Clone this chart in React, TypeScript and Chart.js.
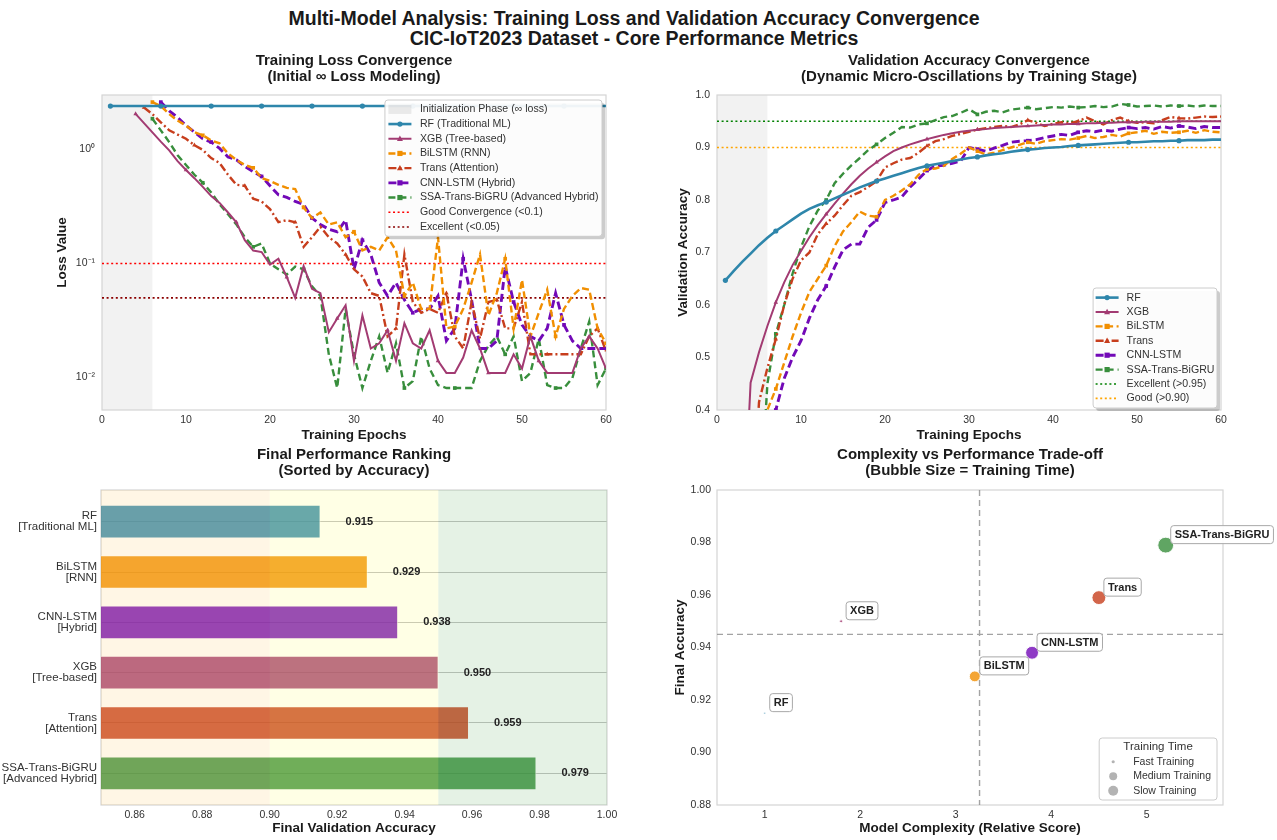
import React, { useEffect, useRef } from "react";
import { Chart, registerables } from "chart.js";
Chart.register(...registerables);

const FONT = "'Liberation Sans', Arial, Helvetica, sans-serif";

// ---------------- DATA ----------------
const EPOCHS = [1,2,3,4,5,6,7,8,9,10,11,12,13,14,15,16,17,18,19,20,21,22,23,24,25,26,27,28,29,30,31,32,33,34,35,36,37,38,39,40,41,42,43,44,45,46,47,48,49,50,51,52,53,54,55,56,57,58,59,60];

const MODELS = ["RF", "XGB", "BiLSTM", "Trans", "CNN-LSTM", "SSA-Trans-BiGRU"];
const MODEL_TYPES = ["Traditional ML", "Tree-based", "RNN", "Attention", "Hybrid", "Advanced Hybrid"];

const LOSS_RF = [2.4,2.4,2.4,2.4,2.4,2.4,2.4,2.4,2.4,2.4,2.4,2.4,2.4,2.4,2.4,2.4,2.4,2.4,2.4,2.4,2.4,2.4,2.4,2.4,2.4,2.4,2.4,2.4,2.4,2.4,2.4,2.4,2.4,2.4,2.4,2.4,2.4,2.4,2.4,2.4,2.4,2.4,2.4,2.4,2.4,2.4,2.4,2.4,2.4,2.4,2.4,2.4,2.4,2.4,2.4,2.4,2.4,2.4,2.4,2.4];
const LOSS_XGB = [null,null,null,2.05,1.70,1.41,1.17,0.98,0.79,0.66,
  0.56,0.47,0.39,0.34,0.28,0.23,0.16,0.13,0.126,0.098,
  0.11,0.076,0.050,0.095,0.060,0.055,0.025,0.033,0.043,0.014,
  0.035,0.018,0.020,0.026,0.014,0.030,0.020,0.018,0.026,0.014,
  0.011,0.011,0.015,0.026,0.018,0.011,0.011,0.011,0.016,0.012,
  0.023,0.014,0.011,0.011,0.011,0.011,0.018,0.023,0.018,0.012];
const LOSS_BILSTM = [null,null,null,null,null,2.6,2.4,2.04,1.79,1.62,
  1.42,1.33,1.20,1.13,0.92,0.81,0.73,0.69,0.56,0.53,
  0.49,0.46,0.45,0.31,0.25,0.28,0.22,0.23,0.17,0.19,
  0.13,0.14,0.13,0.17,0.13,0.052,0.068,0.040,0.040,0.17,
  0.027,0.028,0.040,0.068,0.12,0.035,0.055,0.11,0.027,0.072,
  0.023,0.037,0.059,0.023,0.040,0.052,0.061,0.059,0.027,0.020];
const LOSS_TRANS = [null,null,null,null,2.33,2.04,1.73,1.47,1.35,1.24,
  1.09,0.99,0.84,0.76,0.60,0.49,0.48,0.37,0.35,0.30,
  0.23,0.24,0.23,0.14,0.17,0.21,0.17,0.15,0.12,0.089,
  0.077,0.055,0.052,0.023,0.027,0.12,0.046,0.037,0.040,0.037,
  0.055,0.023,0.018,0.046,0.022,0.046,0.048,0.027,0.027,0.046,
  0.016,0.016,0.016,0.016,0.016,0.016,0.016,0.023,0.027,0.017];
const LOSS_CNN = [null,null,null,null,null,null,2.6,2.18,1.91,1.62,
  1.42,1.24,1.16,1.02,0.86,0.81,0.71,0.64,0.58,0.48,
  0.40,0.38,0.35,0.33,0.25,0.22,0.20,0.19,0.24,0.089,
  0.16,0.12,0.068,0.052,0.068,0.048,0.037,0.040,0.040,0.052,
  0.021,0.027,0.11,0.048,0.018,0.018,0.021,0.094,0.046,0.029,
  0.023,0.021,0.027,0.055,0.029,0.021,0.018,0.018,0.018,0.018];
const LOSS_SSA = [null,null,null,null,null,1.86,1.47,1.16,0.89,0.73,
  0.60,0.51,0.42,0.33,0.27,0.22,0.17,0.14,0.15,0.10,
  0.089,0.080,0.094,0.089,0.063,0.052,0.016,0.0081,0.040,0.016,
  0.0081,0.014,0.023,0.011,0.020,0.0081,0.0093,0.023,0.012,0.0086,
  0.0081,0.0081,0.0081,0.0081,0.014,0.019,0.023,0.016,0.023,0.0093,
  0.011,0.022,0.0086,0.0081,0.0081,0.0099,0.018,0.031,0.0086,0.012];

const ACC_RF = [0.647,0.665,0.682,0.698,0.714,0.728,0.741,0.752,0.763,0.774,
  0.783,0.790,0.796,0.803,0.810,0.817,0.824,0.830,0.836,0.841,
  0.846,0.851,0.856,0.861,0.865,0.868,0.871,0.874,0.877,0.880,
  0.882,0.885,0.887,0.889,0.892,0.894,0.896,0.897,0.899,0.900,
  0.901,0.903,0.904,0.905,0.906,0.907,0.908,0.909,0.910,0.910,
  0.911,0.912,0.912,0.913,0.913,0.914,0.914,0.914,0.915,0.915];
const ACC_XGB = [0.05,0.08,0.12,0.452,0.510,0.560,0.605,0.643,0.676,0.703,
  0.729,0.752,0.773,0.793,0.812,0.830,0.846,0.860,0.872,0.883,
  0.893,0.900,0.906,0.911,0.916,0.920,0.924,0.927,0.930,0.932,
  0.934,0.935,0.937,0.938,0.939,0.940,0.941,0.942,0.943,0.944,
  0.944,0.945,0.945,0.946,0.946,0.947,0.947,0.948,0.948,0.948,
  0.949,0.949,0.949,0.949,0.950,0.950,0.950,0.950,0.950,0.950];
const ACC_BILSTM = [0.04,0.06,0.08,0.11,0.15,0.40,0.44,0.49,0.54,0.585,
  0.625,0.650,0.675,0.712,0.740,0.758,0.778,0.770,0.768,0.800,
  0.808,0.818,0.830,0.848,0.859,0.860,0.865,0.878,0.888,0.900,
  0.893,0.887,0.890,0.895,0.900,0.905,0.910,0.907,0.912,0.914,
  0.916,0.915,0.918,0.922,0.918,0.920,0.924,0.921,0.927,0.929,
  0.932,0.926,0.930,0.928,0.929,0.932,0.928,0.933,0.930,0.929];
const ACC_TRANS = [0.05,0.08,0.11,0.15,0.415,0.48,0.535,0.60,0.65,0.685,
  0.70,0.735,0.755,0.77,0.79,0.808,0.815,0.825,0.836,0.862,
  0.870,0.877,0.880,0.890,0.903,0.912,0.916,0.922,0.926,0.930,
  0.934,0.937,0.939,0.941,0.939,0.944,0.952,0.947,0.941,0.945,
  0.948,0.946,0.950,0.957,0.950,0.944,0.952,0.957,0.950,0.947,
  0.948,0.946,0.952,0.958,0.956,0.955,0.957,0.959,0.958,0.959];
const ACC_CNN = [0.03,0.05,0.07,0.09,0.12,0.15,0.40,0.46,0.50,0.532,
  0.575,0.610,0.636,0.672,0.705,0.716,0.716,0.748,0.762,0.795,
  0.800,0.806,0.825,0.840,0.856,0.865,0.866,0.870,0.874,0.900,
  0.897,0.893,0.899,0.904,0.910,0.912,0.913,0.915,0.919,0.922,
  0.925,0.923,0.929,0.932,0.930,0.933,0.931,0.935,0.938,0.936,
  0.938,0.935,0.940,0.937,0.941,0.939,0.936,0.940,0.938,0.938];
const ACC_SSA = [0.05,0.07,0.09,0.12,0.18,0.45,0.545,0.60,0.66,0.71,
  0.75,0.78,0.80,0.832,0.85,0.866,0.880,0.895,0.906,0.918,
  0.928,0.939,0.938,0.944,0.946,0.952,0.958,0.960,0.966,0.973,
  0.963,0.968,0.970,0.967,0.972,0.974,0.976,0.973,0.975,0.977,
  0.976,0.978,0.976,0.977,0.979,0.977,0.978,0.983,0.981,0.978,
  0.979,0.980,0.978,0.980,0.979,0.980,0.978,0.980,0.979,0.979];

const FINAL_ACC = [0.915, 0.950, 0.929, 0.959, 0.938, 0.979];
const COMPLEXITY = [1.0, 1.8, 3.2, 4.5, 3.8, 5.2];
const TRAIN_TIME = [2, 4.5, 60, 98, 85, 128];

const INIT_PHASE = [0, 6];
const LOSS_GOOD = 0.1;
const LOSS_EXCELLENT = 0.05;
const ACC_EXCELLENT = 0.95;
const ACC_GOOD = 0.9;
const EPOCH_TICKS = [0, 10, 20, 30, 40, 50, 60];
const LOSS_TICKS = [1, 0.1, 0.01];
const LOSS_TICK_LABELS = ["10\u2070", "10\u207B\u00B9", "10\u207B\u00B2"];
const ACC_TICKS = [0.4, 0.5, 0.6, 0.7, 0.8, 0.9, 1.0];
const BAR_TICKS = [0.86, 0.88, 0.90, 0.92, 0.94, 0.96, 0.98, 1.00];
const BAR_ZONES = [0.85, 0.90, 0.95, 1.00];
const SC_X_TICKS = [1, 2, 3, 4, 5];
const SC_Y_TICKS = [0.88, 0.90, 0.92, 0.94, 0.96, 0.98, 1.00];
const TIME_LEGEND = ["Fast Training", "Medium Training", "Slow Training"];

// ---------------- STYLES ----------------
const STYLE = [
  { color: "#2E86AB", width: 2.6, dash: [] as number[], marker: "circle" },
  { color: "#A23B72", width: 2.0, dash: [] as number[], marker: "triangle" },
  { color: "#F18F01", width: 2.4, dash: [7, 3.5], marker: "rect" },
  { color: "#C73E1D", width: 2.4, dash: [8, 3, 2, 3], marker: "triangle" },
  { color: "#7209B7", width: 2.9, dash: [8, 4], marker: "rect" },
  { color: "#388E3C", width: 2.4, dash: [7, 4], marker: "rect" },
];
const ZONE_COLORS = ["rgba(255,165,0,0.1)", "rgba(255,255,0,0.1)", "rgba(0,128,0,0.1)"];

function hexA(hex: string, a: number) {
  const n = parseInt(hex.slice(1), 16);
  return `rgba(${(n >> 16) & 255},${(n >> 8) & 255},${n & 255},${a})`;
}

function rr(ctx: CanvasRenderingContext2D, x: number, y: number, w: number, h: number, r: number) {
  ctx.beginPath();
  ctx.moveTo(x + r, y);
  ctx.lineTo(x + w - r, y);
  ctx.arcTo(x + w, y, x + w, y + r, r);
  ctx.lineTo(x + w, y + h - r);
  ctx.arcTo(x + w, y + h, x + w - r, y + h, r);
  ctx.lineTo(x + r, y + h);
  ctx.arcTo(x, y + h, x, y + h - r, r);
  ctx.lineTo(x, y + r);
  ctx.arcTo(x, y, x + r, y, r);
  ctx.closePath();
}

function drawMarker(ctx: CanvasRenderingContext2D, kind: string, x: number, y: number, r: number, color: string) {
  ctx.save();
  ctx.setLineDash([]);
  ctx.fillStyle = color;
  ctx.beginPath();
  if (kind === "circle") ctx.arc(x, y, r, 0, Math.PI * 2);
  else if (kind === "rect") ctx.rect(x - r, y - r, 2 * r, 2 * r);
  else {
    ctx.moveTo(x, y - r * 1.25);
    ctx.lineTo(x + r * 1.15, y + r * 0.85);
    ctx.lineTo(x - r * 1.15, y + r * 0.85);
    ctx.closePath();
  }
  ctx.fill();
  ctx.restore();
}

type Entry = { label: string; kind: "line" | "patch" | "dot"; color: string; dash?: number[]; width?: number; marker?: string; r?: number };

function drawLegend(ctx: CanvasRenderingContext2D, entries: Entry[], o: any) {
  ctx.save();
  ctx.font = o.font;
  let tw = 0;
  entries.forEach((e) => (tw = Math.max(tw, ctx.measureText(e.label).width)));
  let titleH = 0;
  let inner = o.handleW + o.gap + tw;
  if (o.title) {
    ctx.font = o.titleFont;
    inner = Math.max(inner, ctx.measureText(o.title).width);
    titleH = o.rowH;
  }
  const w = o.padX * 2 + inner;
  const h = o.padY * 2 + titleH + entries.length * o.rowH;
  const x = o.right - w;
  const y = o.top !== undefined ? o.top : o.bottom - h;
  if (o.shadow) {
    ctx.fillStyle = "rgba(0,0,0,0.2)";
    rr(ctx, x + 3, y + 3, w, h, 3);
    ctx.fill();
  }
  ctx.fillStyle = "rgba(255,255,255,0.93)";
  rr(ctx, x, y, w, h, 3);
  ctx.fill();
  ctx.strokeStyle = "#cccccc";
  ctx.lineWidth = 1;
  ctx.stroke();
  if (o.title) {
    ctx.font = o.titleFont;
    ctx.fillStyle = "#333";
    ctx.textAlign = "center";
    ctx.textBaseline = "middle";
    ctx.fillText(o.title, x + w / 2, y + o.padY + o.rowH / 2);
  }
  let cy = y + o.padY + titleH + o.rowH / 2;
  entries.forEach((e) => {
    const hx0 = x + o.padX;
    const hx1 = hx0 + o.handleW;
    if (e.kind === "patch") {
      ctx.fillStyle = e.color;
      ctx.fillRect(hx0, cy - 4.5, o.handleW, 9);
    } else if (e.kind === "line") {
      ctx.strokeStyle = e.color;
      ctx.lineWidth = e.width || 2;
      ctx.setLineDash(e.dash || []);
      ctx.beginPath();
      ctx.moveTo(hx0, cy);
      ctx.lineTo(hx1, cy);
      ctx.stroke();
      ctx.setLineDash([]);
      if (e.marker) drawMarker(ctx, e.marker, (hx0 + hx1) / 2, cy, 2.6, e.color);
    } else {
      drawMarker(ctx, "circle", (hx0 + hx1) / 2, cy, e.r || 3, e.color);
    }
    ctx.font = o.font;
    ctx.fillStyle = "#333";
    ctx.textAlign = "left";
    ctx.textBaseline = "middle";
    ctx.fillText(e.label, hx1 + o.gap, cy);
    cy += o.rowH;
  });
  ctx.restore();
}

const frame = (chart: any) => {
  const { ctx, chartArea: a } = chart;
  ctx.save();
  ctx.strokeStyle = "#d4d4d4";
  ctx.lineWidth = 1.2;
  ctx.strokeRect(a.left, a.top, a.right - a.left, a.bottom - a.top);
  ctx.restore();
};

const shade = (chart: any) => {
  const { ctx, chartArea: a, scales } = chart;
  const x0 = scales.x.getPixelForValue(INIT_PHASE[0]);
  const x1 = scales.x.getPixelForValue(INIT_PHASE[1]);
  ctx.save();
  ctx.fillStyle = "rgba(128,128,128,0.1)";
  ctx.fillRect(x0, a.top, x1 - x0, a.bottom - a.top);
  ctx.restore();
};

const tickFont = { size: 10.5, family: FONT };
const axTitle = (text: string, padding: any) => ({
  display: true,
  text,
  color: "#1a1a1a",
  font: { size: 13.5, weight: "bold" as const, family: FONT, lineHeight: 1.2 },
  padding,
});
const plotTitle = (lines: string[], top: number, bottom: number) => ({
  display: true,
  text: lines,
  fullSize: false,
  color: "#1a1a1a",
  font: { size: 15, weight: "bold" as const, family: FONT, lineHeight: 1.06 },
  padding: { top, bottom },
});

function firstValid(arr: (number | null)[]) {
  for (let i = 0; i < arr.length; i++) if (arr[i] !== null) return i;
  return 0;
}

function lineDataset(label: string, values: (number | null)[], s: any) {
  const f = firstValid(values);
  return {
    label,
    data: EPOCHS.map((e, i) => ({ x: e, y: values[i] })),
    borderColor: s.color,
    backgroundColor: s.color,
    borderWidth: s.width,
    borderDash: s.dash,
    pointStyle: s.marker,
    pointBorderWidth: 0,
    pointRadius: (c: any) => (c.dataIndex >= f && (c.dataIndex - f) % 6 === 0 ? 2.6 : 0),
    pointHoverRadius: 0,
    fill: false,
    tension: 0,
    spanGaps: false,
  };
}

function refLine(label: string, y: number, color: string) {
  return {
    label,
    data: [{ x: EPOCH_TICKS[0], y }, { x: EPOCH_TICKS[EPOCH_TICKS.length - 1], y }],
    borderColor: color,
    backgroundColor: color,
    borderWidth: 1.6,
    borderDash: [2, 2.6],
    pointRadius: 0,
    fill: false,
  };
}

// title layout: line height 15*1.06 = 15.9; block height must equal 45
const TOP_TITLE_PAD = [3.1, 10.1];
const BOT_TITLE_PAD = [2.1, 11.1];

function makeLoss(canvas: HTMLCanvasElement) {
  const series = [LOSS_RF, LOSS_XGB, LOSS_BILSTM, LOSS_TRANS, LOSS_CNN, LOSS_SSA];
  const names = MODELS.map((m, i) => `${m} (${MODEL_TYPES[i]})`);
  const datasets: any[] = series.map((v, i) => lineDataset(names[i], v, STYLE[i]));
  datasets.push(refLine("Good Convergence (<0.1)", LOSS_GOOD, "#ff0000"));
  datasets.push(refLine("Excellent (<0.05)", LOSS_EXCELLENT, "#8b0000"));
  const entries: Entry[] = [
    { label: "Initialization Phase (\u221E loss)", kind: "patch", color: "rgba(128,128,128,0.16)" },
    ...names.map((n, i) => ({ label: n, kind: "line" as const, color: STYLE[i].color, dash: STYLE[i].dash, width: STYLE[i].width, marker: STYLE[i].marker })),
    { label: "Good Convergence (<0.1)", kind: "line", color: "#ff0000", dash: [2, 2.6], width: 1.6 },
    { label: "Excellent (<0.05)", kind: "line", color: "#8b0000", dash: [2, 2.6], width: 1.6 },
  ];
  return new Chart(canvas, {
    type: "line",
    data: { datasets },
    options: {
      responsive: false,
      animation: false,
      events: [],
      layout: { padding: { left: 0, right: 34, top: 0, bottom: 0 } },
      plugins: {
        legend: { display: false },
        tooltip: { enabled: false },
        title: plotTitle(["Training Loss Convergence", "(Initial \u221E Loss Modeling)"], TOP_TITLE_PAD[0], TOP_TITLE_PAD[1]),
      },
      scales: {
        x: {
          type: "linear",
          min: 0,
          max: 60,
          grid: { display: false, drawTicks: false },
          border: { display: false },
          ticks: { font: tickFont, color: "#333", padding: 4 },
          afterBuildTicks: (s: any) => { s.ticks = EPOCH_TICKS.map((v) => ({ value: v })); },
          afterFit: (s: any) => { s.height = 35; },
          title: axTitle("Training Epochs", { top: 0, bottom: 1.6 }),
        },
        y: {
          type: "logarithmic",
          min: 0.0052,
          max: 3.0,
          grid: { display: false, drawTicks: false },
          border: { display: false },
          ticks: {
            font: tickFont,
            color: "#333",
            padding: 7,
            callback: (v: any) => LOSS_TICK_LABELS[LOSS_TICKS.indexOf(Number(v))] ?? "",
          },
          afterBuildTicks: (s: any) => { s.ticks = LOSS_TICKS.map((v) => ({ value: v })); },
          afterFit: (s: any) => { s.width = 102; },
          title: axTitle("Loss Value", { top: 54, bottom: 0 }),
        },
      },
    },
    plugins: [
      {
        id: "lossDeco",
        beforeDatasetsDraw: (chart: any) => { shade(chart); frame(chart); },
        afterDatasetsDraw: (chart: any) => {
          const a = chart.chartArea;
          drawLegend(chart.ctx, entries, {
            right: a.right - 4, top: a.top + 5, rowH: 14.7, padX: 3.5, padY: 2,
            handleW: 23, gap: 8.5, font: `10.6px ${FONT}`, shadow: true,
          });
        },
      },
    ],
  } as any);
}

function makeAcc(canvas: HTMLCanvasElement) {
  const series = [ACC_RF, ACC_XGB, ACC_BILSTM, ACC_TRANS, ACC_CNN, ACC_SSA];
  const datasets: any[] = series.map((v, i) => lineDataset(MODELS[i], v, STYLE[i]));
  datasets.push(refLine("Excellent (>0.95)", ACC_EXCELLENT, "#008000"));
  datasets.push(refLine("Good (>0.90)", ACC_GOOD, "#FFA500"));
  const entries: Entry[] = [
    ...MODELS.map((n, i) => ({ label: n, kind: "line" as const, color: STYLE[i].color, dash: STYLE[i].dash, width: STYLE[i].width, marker: STYLE[i].marker })),
    { label: "Excellent (>0.95)", kind: "line", color: "#008000", dash: [2, 2.6], width: 1.6 },
    { label: "Good (>0.90)", kind: "line", color: "#FFA500", dash: [2, 2.6], width: 1.6 },
  ];
  return new Chart(canvas, {
    type: "line",
    data: { datasets },
    options: {
      responsive: false,
      animation: false,
      events: [],
      layout: { padding: { left: 0, right: 56, top: 0, bottom: 0 } },
      plugins: {
        legend: { display: false },
        tooltip: { enabled: false },
        title: plotTitle(["Validation Accuracy Convergence", "(Dynamic Micro-Oscillations by Training Stage)"], TOP_TITLE_PAD[0], TOP_TITLE_PAD[1]),
      },
      scales: {
        x: {
          type: "linear",
          min: 0,
          max: 60,
          grid: { display: false, drawTicks: false },
          border: { display: false },
          ticks: { font: tickFont, color: "#333", padding: 4 },
          afterBuildTicks: (s: any) => { s.ticks = EPOCH_TICKS.map((v) => ({ value: v })); },
          afterFit: (s: any) => { s.height = 35; },
          title: axTitle("Training Epochs", { top: 0, bottom: 1.6 }),
        },
        y: {
          type: "linear",
          min: 0.4,
          max: 1.0,
          grid: { display: false, drawTicks: false },
          border: { display: false },
          ticks: { font: tickFont, color: "#333", padding: 7, callback: (v: any) => Number(v).toFixed(1) },
          afterBuildTicks: (s: any) => { s.ticks = ACC_TICKS.map((v) => ({ value: v })); },
          afterFit: (s: any) => { s.width = 77; },
          title: axTitle("Validation Accuracy", { top: 35, bottom: 0 }),
        },
      },
    },
    plugins: [
      {
        id: "accDeco",
        beforeDatasetsDraw: (chart: any) => { shade(chart); frame(chart); },
        afterDatasetsDraw: (chart: any) => {
          const a = chart.chartArea;
          drawLegend(chart.ctx, entries, {
            right: a.right - 4, bottom: a.bottom - 2, rowH: 14.4, padX: 2.5, padY: 2.4,
            handleW: 23, gap: 8, font: `10.6px ${FONT}`, shadow: true,
          });
        },
      },
    ],
  } as any);
}

function makeBar(canvas: HTMLCanvasElement) {
  const order = MODELS.map((_, i) => i).sort((a, b) => FINAL_ACC[a] - FINAL_ACC[b]);
  const data = order.map((m, k) => ({ x: FINAL_ACC[m], y: k }));
  return new Chart(canvas, {
    type: "bar",
    data: {
      datasets: [
        {
          label: "Final Validation Accuracy",
          data,
          base: BAR_ZONES[0],
          backgroundColor: order.map((m) => hexA(STYLE[m].color, 0.8)),
          borderColor: "rgba(255,255,255,0.55)",
          borderWidth: 1,
          barThickness: 33,
        },
      ],
    },
    options: {
      responsive: false,
      animation: false,
      events: [],
      indexAxis: "y",
      layout: { padding: { left: 0, right: 33, top: 0, bottom: 0 } },
      plugins: {
        legend: { display: false },
        tooltip: { enabled: false },
        title: plotTitle(["Final Performance Ranking", "(Sorted by Accuracy)"], BOT_TITLE_PAD[0], BOT_TITLE_PAD[1]),
      },
      scales: {
        x: {
          type: "linear",
          min: BAR_ZONES[0],
          max: BAR_ZONES[BAR_ZONES.length - 1],
          grid: { display: false, drawTicks: false },
          border: { display: false },
          ticks: { font: tickFont, color: "#333", padding: 4, callback: (v: any) => Number(v).toFixed(2) },
          afterBuildTicks: (s: any) => { s.ticks = BAR_TICKS.map((v) => ({ value: v })); },
          afterFit: (s: any) => { s.height = 35; },
          title: axTitle("Final Validation Accuracy", { top: 0, bottom: 3.4 }),
        },
        y: {
          type: "linear",
          offset: false,
          min: -0.63,
          max: order.length - 1 + 0.63,
          reverse: true,
          grid: { display: true, offset: false, color: "#c6c6c6", lineWidth: 1, drawTicks: false },
          border: { display: false },
          ticks: {
            font: { size: 11.5, family: FONT, lineHeight: 0.96 },
            color: "#333",
            padding: 4,
            callback: (v: any) => {
              const m = order[Math.round(Number(v))];
              return m === undefined ? "" : [MODELS[m], `[${MODEL_TYPES[m]}]`];
            },
          },
          afterBuildTicks: (s: any) => { s.ticks = order.map((_, k) => ({ value: k })); },
          afterFit: (s: any) => { s.width = 101; },
        },
      },
    },
    plugins: [
      {
        id: "barDeco",
        beforeDatasetsDraw: (chart: any) => frame(chart),
        afterDatasetsDraw: (chart: any) => {
          const { ctx, chartArea: a, scales } = chart;
          ctx.save();
          for (let i = 0; i < BAR_ZONES.length - 1; i++) {
            const x0 = scales.x.getPixelForValue(BAR_ZONES[i]);
            const x1 = scales.x.getPixelForValue(BAR_ZONES[i + 1]);
            ctx.fillStyle = ZONE_COLORS[i];
            ctx.fillRect(x0, a.top, x1 - x0, a.bottom - a.top);
          }
          ctx.font = `bold 11px ${FONT}`;
          ctx.fillStyle = "#222";
          ctx.textAlign = "left";
          ctx.textBaseline = "middle";
          data.forEach((d) => {
            ctx.fillText(d.x.toFixed(3), scales.x.getPixelForValue(d.x + 0.0075), scales.y.getPixelForValue(d.y));
          });
          ctx.restore();
        },
      },
    ],
  } as any);
}

function makeBubble(canvas: HTMLCanvasElement) {
  const meanX = COMPLEXITY.reduce((a, b) => a + b, 0) / COMPLEXITY.length;
  const meanY = FINAL_ACC.reduce((a, b) => a + b, 0) / FINAL_ACC.length;
  const radius = (t: number) => Math.sqrt(t) * 0.7;
  const entries: Entry[] = [
    { label: TIME_LEGEND[0], kind: "dot", color: "rgba(128,128,128,0.6)", r: 1.6 },
    { label: TIME_LEGEND[1], kind: "dot", color: "rgba(128,128,128,0.6)", r: 4 },
    { label: TIME_LEGEND[2], kind: "dot", color: "rgba(128,128,128,0.6)", r: 5 },
  ];
  return new Chart(canvas, {
    type: "bubble",
    data: {
      datasets: [
        {
          label: "Models",
          data: MODELS.map((_, i) => ({ x: COMPLEXITY[i], y: FINAL_ACC[i], r: radius(TRAIN_TIME[i]) })),
          backgroundColor: MODELS.map((_, i) => hexA(STYLE[i].color, 0.8)),
          borderColor: "rgba(255,255,255,0.9)",
          borderWidth: 1,
        },
      ],
    },
    options: {
      responsive: false,
      animation: false,
      events: [],
      layout: { padding: { left: 0, right: 54, top: 0, bottom: 0 } },
      plugins: {
        legend: { display: false },
        tooltip: { enabled: false },
        title: plotTitle(["Complexity vs Performance Trade-off", "(Bubble Size = Training Time)"], BOT_TITLE_PAD[0], BOT_TITLE_PAD[1]),
      },
      scales: {
        x: {
          type: "linear",
          min: 0.5,
          max: 5.8,
          grid: { display: false, drawTicks: false },
          border: { display: false },
          ticks: { font: tickFont, color: "#333", padding: 4 },
          afterBuildTicks: (s: any) => { s.ticks = SC_X_TICKS.map((v) => ({ value: v })); },
          afterFit: (s: any) => { s.height = 35; },
          title: axTitle("Model Complexity (Relative Score)", { top: 0, bottom: 3.4 }),
        },
        y: {
          type: "linear",
          min: 0.88,
          max: 1.0,
          grid: { display: false, drawTicks: false },
          border: { display: false },
          ticks: { font: tickFont, color: "#333", padding: 6, callback: (v: any) => Number(v).toFixed(2) },
          afterBuildTicks: (s: any) => { s.ticks = SC_Y_TICKS.map((v) => ({ value: v })); },
          afterFit: (s: any) => { s.width = 77; },
          title: axTitle("Final Accuracy", { top: 32, bottom: 0 }),
        },
      },
    },
    plugins: [
      {
        id: "bubbleDeco",
        beforeDatasetsDraw: (chart: any) => {
          frame(chart);
          const { ctx, chartArea: a, scales } = chart;
          ctx.save();
          ctx.strokeStyle = "rgba(140,140,140,0.8)";
          ctx.lineWidth = 1.4;
          ctx.setLineDash([6, 4]);
          const vx = scales.x.getPixelForValue(meanX);
          const hy = scales.y.getPixelForValue(meanY);
          ctx.beginPath();
          ctx.moveTo(vx, a.top);
          ctx.lineTo(vx, a.bottom);
          ctx.moveTo(a.left, hy);
          ctx.lineTo(a.right, hy);
          ctx.stroke();
          ctx.restore();
        },
        afterDatasetsDraw: (chart: any) => {
          const { ctx, chartArea: a } = chart;
          const meta = chart.getDatasetMeta(0);
          ctx.save();
          meta.data.forEach((pt: any, i: number) => {
            const label = MODELS[i];
            ctx.font = `bold 11px ${FONT}`;
            const tw = ctx.measureText(label).width;
            const bx = pt.x + 5;
            const cy = pt.y - 10.5;
            const bh = 18;
            rr(ctx, bx, cy - bh / 2, tw + 8, bh, 3);
            ctx.fillStyle = "rgba(255,255,255,0.95)";
            ctx.fill();
            ctx.strokeStyle = "#a8a8a8";
            ctx.lineWidth = 1;
            ctx.stroke();
            ctx.fillStyle = "#222";
            ctx.textAlign = "left";
            ctx.textBaseline = "middle";
            ctx.fillText(label, bx + 4, cy + 0.5);
          });
          ctx.restore();
          drawLegend(ctx, entries, {
            right: a.right - 6, bottom: a.bottom - 5, rowH: 14.5, padX: 6, padY: 2,
            handleW: 16, gap: 12, font: `10.5px ${FONT}`, title: "Training Time",
            titleFont: `11.5px ${FONT}`, shadow: false,
          });
        },
      },
    ],
  } as any);
}

export default function App() {
  const r1 = useRef<HTMLCanvasElement>(null);
  const r2 = useRef<HTMLCanvasElement>(null);
  const r3 = useRef<HTMLCanvasElement>(null);
  const r4 = useRef<HTMLCanvasElement>(null);

  useEffect(() => {
    Chart.defaults.font.family = FONT;
    Chart.defaults.color = "#333";
    const charts = [
      makeLoss(r1.current as HTMLCanvasElement),
      makeAcc(r2.current as HTMLCanvasElement),
      makeBar(r3.current as HTMLCanvasElement),
      makeBubble(r4.current as HTMLCanvasElement),
    ];
    return () => charts.forEach((c) => c.destroy());
  }, []);

  const cv = (left: number, top: number, w: number, h: number) => ({
    position: "absolute" as const, left, top, width: w, height: h, display: "block",
  });

  return (
    <div style={{ position: "absolute", left: 0, top: 0, width: 1277, height: 840, background: "#ffffff", overflow: "hidden" }}>
      <div
        style={{
          position: "absolute", left: 0, top: 8, width: 1268, textAlign: "center",
          font: `bold 19.5px ${FONT}`, lineHeight: "20px", color: "#1a1a1a",
        }}
      >
        <div>Multi-Model Analysis: Training Loss and Validation Accuracy Convergence</div>
        <div>CIC-IoT2023 Dataset - Core Performance Metrics</div>
      </div>
      <canvas ref={r1} width={640} height={395} style={cv(0, 50, 640, 395)} />
      <canvas ref={r2} width={637} height={395} style={cv(640, 50, 637, 395)} />
      <canvas ref={r3} width={640} height={395} style={cv(0, 445, 640, 395)} />
      <canvas ref={r4} width={637} height={395} style={cv(640, 445, 637, 395)} />
    </div>
  );
}
